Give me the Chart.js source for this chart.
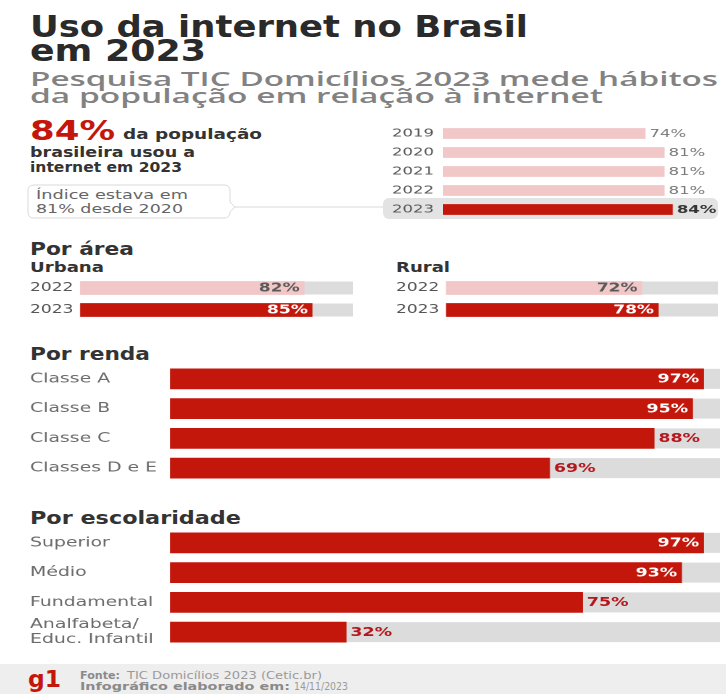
<!DOCTYPE html>
<html><head><meta charset="utf-8">
<script src="https://cdn.jsdelivr.net/npm/chart.js@4.4.1/dist/chart.umd.min.js"></script>
<style>
html,body{margin:0;padding:0;background:#fff;}
#root{position:relative;width:726px;height:694px;overflow:hidden;background:#fff;}
.t{position:absolute;white-space:nowrap;line-height:1;transform-origin:0 0;font-family:"DejaVu Sans",sans-serif;}
.cw{position:absolute;transform-origin:0 0;}
svg{position:absolute;left:0;top:0;}
</style></head><body><div id="root">
<div style="position:absolute;left:0;top:664px;width:726px;height:30px;background:#eeeeee;"></div>
<div style="position:absolute;left:383px;top:198px;width:335px;height:21px;background:#e3e3e3;border-radius:6px;"></div>
<svg width="726" height="694"><path d="M34 185 H224 Q230 185 230 191 V202 L235 207 L230 212 V212 Q230 218 224 218 H34 Q28 218 28 212 V191 Q28 185 34 185 Z" fill="none" stroke="#d9d9d9" stroke-width="1"/><line x1="235" y1="207" x2="383" y2="207" stroke="#d9d9d9" stroke-width="1"/></svg>
</div>
<script>
// ---------- data ----------
const yearLabels = ['2019', '2020', '2021', '2022', '2023'];
const yearValues = [74, 81, 81, 81, 84];
const areaYears = ['2022', '2023'];
const urbanaValues = [82, 85];
const ruralValues = [72, 78];
const rendaLabels = ['Classe A', 'Classe B', 'Classe C', 'Classes D e E'];
const rendaValues = [97, 95, 88, 69];
const escolaridadeLabels = ['Superior', 'Médio', 'Fundamental', ['Analfabeta/', 'Educ. Infantil']];
const escolaridadeValues = [97, 93, 75, 32];
const scaleMax = 100;

const RED = '#c4170c', PINK = '#f2c7c8', TRACK = '#dcdcdc', LRED = '#b5161b';
const FAM = 'DejaVu Sans';
const root = document.getElementById('root');

function addText(str, left, baseline, size, weight, color, width, family) {
  const el = document.createElement('div');
  el.className = 't';
  el.textContent = str;
  if (family) el.style.fontFamily = family;
  el.style.left = left + 'px';
  el.style.top = (baseline - 0.846 * size) + 'px';
  el.style.fontSize = size + 'px';
  el.style.fontWeight = weight;
  el.style.color = color;
  root.appendChild(el);
  if (width) {
    const w = el.getBoundingClientRect().width;
    el.style.transform = 'scaleX(' + (width / w) + ')';
  }
  return el;
}

// ---------- texts ----------
addText('Uso da internet no Brasil', 30, 37, 31, 700, '#2a2a2a', 498);
addText('em 2023', 30, 61, 31, 700, '#2a2a2a', 176);
addText('Pesquisa TIC Domicílios 2023 mede hábitos', 30, 86, 20, 600, '#828282', 688, '"Open Sans", "DejaVu Sans", sans-serif');
addText('da população em relação à internet', 30, 103, 20, 600, '#828282', 573, '"Open Sans", "DejaVu Sans", sans-serif');
addText('84%', 30, 140, 27, 700, RED, 85);
addText('da população', 123, 139, 14, 700, '#333', 139);
addText('brasileira usou a', 30, 157, 14, 700, '#333', 165);
addText('internet em 2023', 30, 172, 14, 700, '#333', 152);
addText('Índice estava em', 36, 199, 13, 400, '#666', 152);
addText('81% desde 2020', 36, 213, 13, 400, '#666', 147);
addText('Por área', 30, 255, 17, 700, '#333', 104);
addText('Urbana', 30, 272, 14, 700, '#333', 74);
addText('Rural', 396, 272, 14, 700, '#333', 54);
addText('Por renda', 30, 360, 17, 700, '#333', 120);
addText('Por escolaridade', 30, 524, 17, 700, '#333', 211);
addText('g1', 28, 687, 23, 700, RED, 33);
addText('Fonte:', 80, 679, 11, 700, '#8a8a8a', 40);
addText('TIC Domicílios 2023 (Cetic.br)', 127, 679, 11, 400, '#9a9a9a', 195);
addText('Infográfico elaborado em:', 80, 690, 11, 700, '#8a8a8a', 210);
addText('14/11/2023', 294, 690, 11, 400, '#9a9a9a', 54);

// ---------- charts ----------
function barChart(c) {
  const dispW = c.barRight - c.labelLeft;
  const logW = Math.round(dispW / c.f);
  const sx = dispW / logW;
  const h = Math.round(c.rowH * c.labels.length);
  const wrap = document.createElement('div');
  wrap.className = 'cw';
  Object.assign(wrap.style, {left: c.labelLeft + 'px', top: (c.firstCenter - c.rowH / 2) + 'px',
    width: logW + 'px', height: h + 'px', transform: 'scaleX(' + sx + ')'});
  const cv = document.createElement('canvas');
  cv.width = logW; cv.height = h;
  cv.style.width = logW + 'px'; cv.style.height = h + 'px';
  wrap.appendChild(cv); root.appendChild(wrap);
  const axisW = (c.barLeft - c.labelLeft) / sx;
  const plugins = [];
  if (c.track) {
    plugins.push({id: 'track', beforeDatasetsDraw(chart) {
      const ctx = chart.ctx, xs = chart.scales.x;
      const x0 = xs.getPixelForValue(0), x1 = xs.getPixelForValue(scaleMax);
      chart.getDatasetMeta(0).data.forEach(b => {
        ctx.save(); ctx.fillStyle = c.track;
        ctx.fillRect(x0, b.y - b.height / 2, x1 - x0, b.height);
        ctx.restore();
      });
    }});
  }
  plugins.push({id: 'vals', afterDatasetsDraw(chart) {
    const ctx = chart.ctx;
    const data = chart.data.datasets[0].data;
    chart.getDatasetMeta(0).data.forEach((b, i) => {
      const s = c.labelStyle(i, data[i]);
      ctx.save();
      ctx.font = s.font; ctx.fillStyle = s.color; ctx.textBaseline = 'middle';
      if (s.inside) { ctx.textAlign = 'right'; ctx.fillText(data[i] + '%', b.x - s.pad, b.y + 0.5); }
      else { ctx.textAlign = 'left'; ctx.fillText(data[i] + '%', b.x + s.pad, b.y + 0.5); }
      ctx.restore();
    });
  }});
  return new Chart(cv, {
    type: 'bar',
    data: {labels: c.labels, datasets: [{data: c.values, backgroundColor: c.colors, barThickness: c.thickness, borderWidth: 0}]},
    options: {
      responsive: false, animation: false, devicePixelRatio: 2, indexAxis: 'y',
      layout: {padding: 0},
      plugins: {legend: {display: false}, tooltip: {enabled: false}},
      scales: {
        x: {display: false, min: 0, max: scaleMax},
        y: {grid: {display: false}, border: {display: false},
            ticks: {crossAlign: 'far', padding: 0, autoSkip: false, color: c.tickColor,
                    font: {family: FAM, size: c.tickSize, lineHeight: 1.15}},
            afterFit(scale) { scale.width = axisW; scale.paddingTop = 0; scale.paddingBottom = 0; }}
      }
    },
    plugins: plugins
  });
}

barChart({labels: yearLabels, values: yearValues,
  colors: yearValues.map((v, i) => i === yearValues.length - 1 ? RED : PINK),
  labelLeft: 392, barLeft: 443, barRight: 716, firstCenter: 133, rowH: 19, f: 1.5, thickness: 10,
  tickSize: 11, tickColor: '#555',
  labelStyle: (i) => i === 4 ? {inside: false, pad: 3, color: '#333', font: 'bold 11px "DejaVu Sans"'}
                             : {inside: false, pad: 3, color: '#777', font: '11px "DejaVu Sans"'}});

const areaStyle = (i) => i === 0 ? {inside: true, pad: 3, color: '#5a5a5a', font: 'bold 12px "DejaVu Sans"'}
                                 : {inside: true, pad: 3, color: '#fff', font: 'bold 12px "DejaVu Sans"'};
barChart({labels: areaYears, values: urbanaValues, colors: [PINK, RED], track: TRACK,
  labelLeft: 30, barLeft: 80, barRight: 353, firstCenter: 288, rowH: 22, f: 1.42, thickness: 13,
  tickSize: 12, tickColor: '#555', labelStyle: areaStyle});
barChart({labels: areaYears, values: ruralValues, colors: [PINK, RED], track: TRACK,
  labelLeft: 396, barLeft: 446, barRight: 718, firstCenter: 288, rowH: 22, f: 1.42, thickness: 13,
  tickSize: 12, tickColor: '#555', labelStyle: areaStyle});

const bigStyle = (i, v) => v >= 90 ? {inside: true, pad: 3, color: '#fff', font: 'bold 12px "DejaVu Sans"'}
                                   : {inside: false, pad: 3, color: LRED, font: 'bold 12px "DejaVu Sans"'};
barChart({labels: rendaLabels, values: rendaValues, colors: RED, track: TRACK,
  labelLeft: 30, barLeft: 170, barRight: 720, firstCenter: 378.5, rowH: 29.8, f: 1.45, thickness: 20,
  tickSize: 13, tickColor: '#6b6b6b', labelStyle: bigStyle});
barChart({labels: escolaridadeLabels, values: escolaridadeValues, colors: RED, track: TRACK,
  labelLeft: 30, barLeft: 170, barRight: 720, firstCenter: 542.5, rowH: 29.8, f: 1.45, thickness: 20,
  tickSize: 13, tickColor: '#6b6b6b', labelStyle: bigStyle});
</script>
</body></html>
